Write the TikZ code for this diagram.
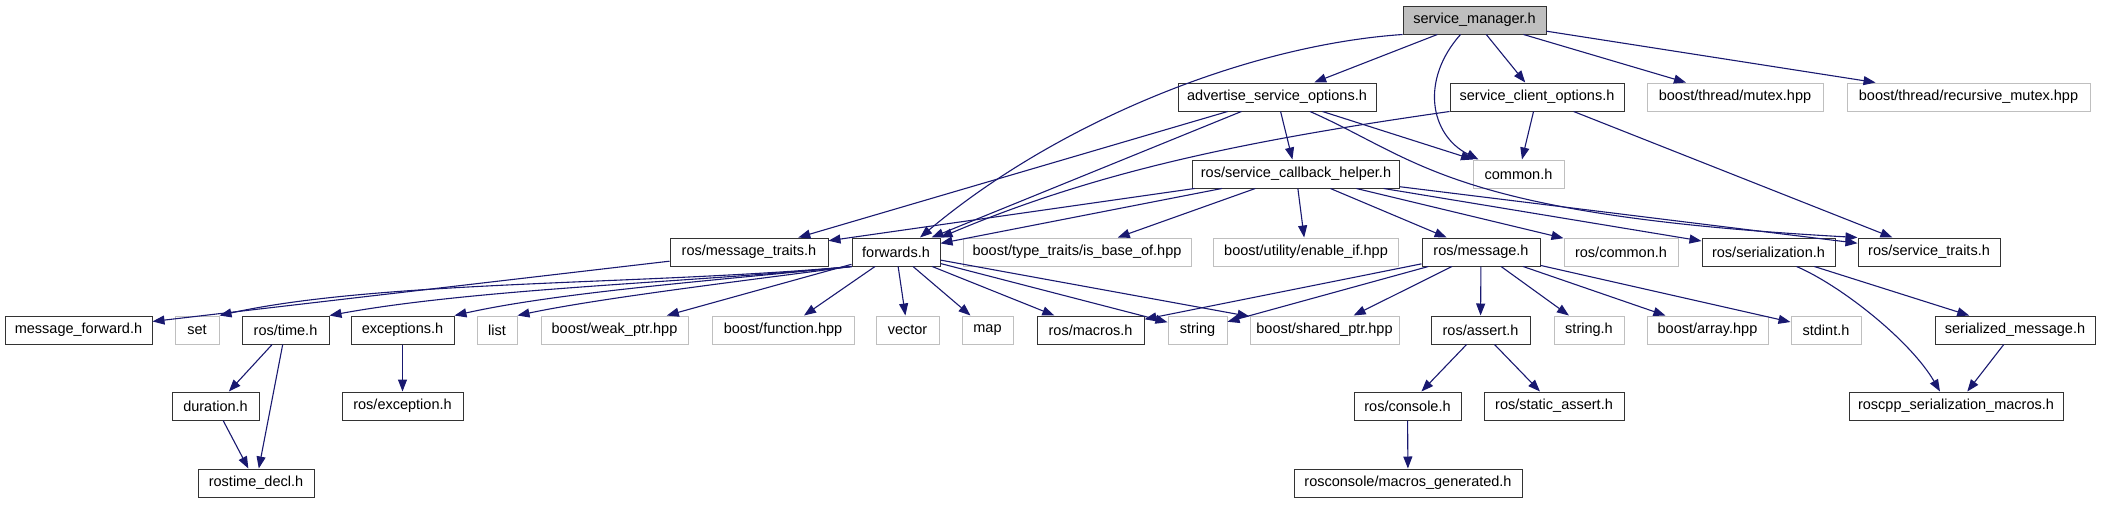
\documentclass[tikz,border=0pt]{standalone}
\usepackage{fontspec}
\setmainfont{Liberation Sans}
\usepackage{tikz}
\usetikzlibrary{shapes.geometric, arrows.meta}
\definecolor{midnight}{HTML}{191970}
\definecolor{grey75}{HTML}{BFBFBF}
\newcommand{\filefont}{\fontsize{14.5}{17}\selectfont}
\tikzstyle{docfile} = [rectangle, draw=black!80, line width=1pt, minimum height=28pt, inner xsep=0pt, inner ysep=0pt, text centered, font=\filefont]
\tikzstyle{extfile} = [docfile, draw=grey75]
\tikzstyle{rootfile} = [docfile, fill=grey75]
\tikzstyle{arrow} = [line width=1.1pt, draw=midnight, -{Triangle[length=12pt, width=9pt]}]

\begin{document}
\begin{tikzpicture}[x=1pt, y=-1pt, tips=proper]
      \useasboundingbox (0,0) rectangle (2101,504);

      % top
      \node (sm)        [rootfile, minimum width=143pt] at (1474.5,20)  {service\_manager.h};

      \node (aso)       [docfile, minimum width=198pt]  at (1277,97)    {advertise\_service\_options.h};
      \node (sco)       [docfile, minimum width=174pt]  at (1537,97)    {service\_client\_options.h};
      \node (mutex)     [extfile, minimum width=176pt]  at (1735,97)    {boost/thread/mutex.hpp};
      \node (rmutex)    [extfile, minimum width=243pt]  at (1968.5,97)  {boost/thread/recursive\_mutex.hpp};

      \node (sch)       [docfile, minimum width=207pt]  at (1296,174)   {ros/service\_callback\_helper.h};
      \node (common)    [extfile, minimum width=91pt]   at (1518.5,174) {common.h};

      \node (mtraits)   [docfile, minimum width=158pt]  at (749,252)    {ros/message\_traits.h};
      \node (fw)        [docfile, minimum width=88pt]   at (896,252)    {forwards.h};
      \node (isbase)    [extfile, minimum width=228pt]  at (1077,252)   {boost/type\_traits/is\_base\_of.hpp};
      \node (enableif)  [extfile, minimum width=185pt]  at (1306,252)   {boost/utility/enable\_if.hpp};
      \node (msg)       [docfile, minimum width=118pt]  at (1481,252)   {ros/message.h};
      \node (rcommon)   [extfile, minimum width=114pt]  at (1621,252)   {ros/common.h};
      \node (ser)       [docfile, minimum width=133pt]  at (1768.5,252) {ros/serialization.h};
      \node (traits)    [docfile, minimum width=142pt]  at (1929,252)   {ros/service\_traits.h};

      \node (msgfwd)    [docfile, minimum width=147pt]  at (78.5,330)   {message\_forward.h};
      \node (set)       [extfile, minimum width=44pt]   at (197,330)    {set};
      \node (time)      [docfile, minimum width=87pt]   at (285.5,330)  {ros/time.h};
      \node (exc)       [docfile, minimum width=103pt]  at (402.5,330)  {exceptions.h};
      \node (list)      [extfile, minimum width=40pt]   at (497,330)    {list};
      \node (weakptr)   [extfile, minimum width=147pt]  at (614.5,330)  {boost/weak\_ptr.hpp};
      \node (function)  [extfile, minimum width=142pt]  at (783,330)    {boost/function.hpp};
      \node (vector)    [extfile, minimum width=63pt]   at (907.5,330)  {vector};
      \node (map)       [extfile, minimum width=51pt]   at (987.5,330)  {map};
      \node (macros)    [docfile, minimum width=107pt]  at (1090.5,330) {ros/macros.h};
      \node (string)    [extfile, minimum width=59pt]   at (1197.5,330) {string};
      \node (sharedptr) [extfile, minimum width=149pt]  at (1324.5,330) {boost/shared\_ptr.hpp};
      \node (assert)    [docfile, minimum width=99pt]   at (1480.5,330) {ros/assert.h};
      \node (stringh)   [extfile, minimum width=70pt]   at (1589,330)   {string.h};
      \node (array)     [extfile, minimum width=121pt]  at (1707.5,330) {boost/array.hpp};
      \node (stdint)    [extfile, minimum width=70pt]   at (1826,330)   {stdint.h};
      \node (sermsg)    [docfile, minimum width=160pt]  at (2015,330)   {serialized\_message.h};

      \node (duration)  [docfile, minimum width=87pt]   at (215.5,406)  {duration.h};
      \node (exception) [docfile, minimum width=121pt]  at (402.5,406)  {ros/exception.h};
      \node (console)   [docfile, minimum width=107pt]  at (1407.5,406) {ros/console.h};
      \node (sassert)   [docfile, minimum width=140pt]  at (1554,406)   {ros/static\_assert.h};
      \node (sermacros) [docfile, minimum width=214pt]  at (1956,406)   {roscpp\_serialization\_macros.h};

      \node (decl)      [docfile, minimum width=116pt]  at (256,483)    {rostime\_decl.h};
      \node (macrosgen) [docfile, minimum width=228pt]  at (1408,483)   {rosconsole/macros\_generated.h};

      % service_manager.h
      \draw [arrow] (sm.south west) .. controls (1250,45) and (1060,120) .. ([xshift=24pt]fw.north);
      \draw [arrow] (sm) -- (aso);
      \draw [arrow] ([xshift=-14pt]sm.south) .. controls (1420,80) and (1430,135) .. ([xshift=-40pt]common.north);
      \draw [arrow] (sm) -- (sco);
      \draw [arrow] (sm) -- (mutex);
      \draw [arrow] (sm) -- (rmutex);

      % advertise_service_options.h
      \draw [arrow] (aso) -- (mtraits);
      \draw [arrow] (aso) -- (fw);
      \draw [arrow] (aso) -- (sch);
      \draw [arrow] (aso) -- (common);
      \draw [arrow] ([xshift=33pt]aso.south) .. controls (1420,160) and (1450,215) .. (traits.north west);

      % service_client_options.h
      \draw [arrow] (sco.south west) .. controls (1250,140) and (1100,170) .. (fw.north east);
      \draw [arrow] (sco) -- (common);
      \draw [arrow] (sco) -- (traits);

      % ros/service_callback_helper.h
      \draw [arrow] (sch) -- (mtraits);
      \draw [arrow] (sch) -- (fw);
      \draw [arrow] (sch) -- (isbase);
      \draw [arrow] (sch) -- (enableif);
      \draw [arrow] (sch) -- (msg);
      \draw [arrow] (sch) -- (rcommon);
      \draw [arrow] (sch) -- (ser);
      \draw [arrow] (sch) -- (traits);

      % forwards.h
      \draw [arrow] (mtraits) -- (msgfwd);
      \draw [arrow] (fw.south west) .. controls (650,285) and (380,280) .. (set.north east);
      \draw [arrow] (fw.south west) .. controls (700,282) and (480,288) .. (time.north east);
      \draw [arrow] (fw.south west) .. controls (720,280) and (560,292) .. (exc.north east);
      \draw [arrow] (fw.south west) .. controls (750,280) and (600,298) .. (list.north east);
      \draw [arrow] (fw) -- (weakptr);
      \draw [arrow] (fw) -- (function);
      \draw [arrow] (fw) -- (vector);
      \draw [arrow] (fw) -- (map);
      \draw [arrow] (fw) -- (macros);
      \draw [arrow] (fw) -- (string);
      \draw [arrow] (fw) -- (sharedptr);

      % ros/message.h
      \draw [arrow] (msg) -- (macros);
      \draw [arrow] (msg) -- (string);
      \draw [arrow] (msg) -- (sharedptr);
      \draw [arrow] (msg) -- (assert);
      \draw [arrow] (msg) -- (stringh);
      \draw [arrow] (msg) -- (array);
      \draw [arrow] (msg) -- (stdint);

      % ros/serialization.h
      \draw [arrow] (ser) -- (sermsg);
      \draw [arrow] ([xshift=28pt]ser.south) .. controls (1840,285) and (1910,340) .. ([xshift=-16pt]sermacros.north);
      \draw [arrow] (sermsg) -- (sermacros);

      % lower levels
      \draw [arrow] (time) -- (duration);
      \draw [arrow] (time) -- (decl);
      \draw [arrow] (duration) -- (decl);
      \draw [arrow] (exc) -- (exception);
      \draw [arrow] (assert) -- (console);
      \draw [arrow] (assert) -- (sassert);
      \draw [arrow] (console) -- (macrosgen);
    \end{tikzpicture}
\end{document}
